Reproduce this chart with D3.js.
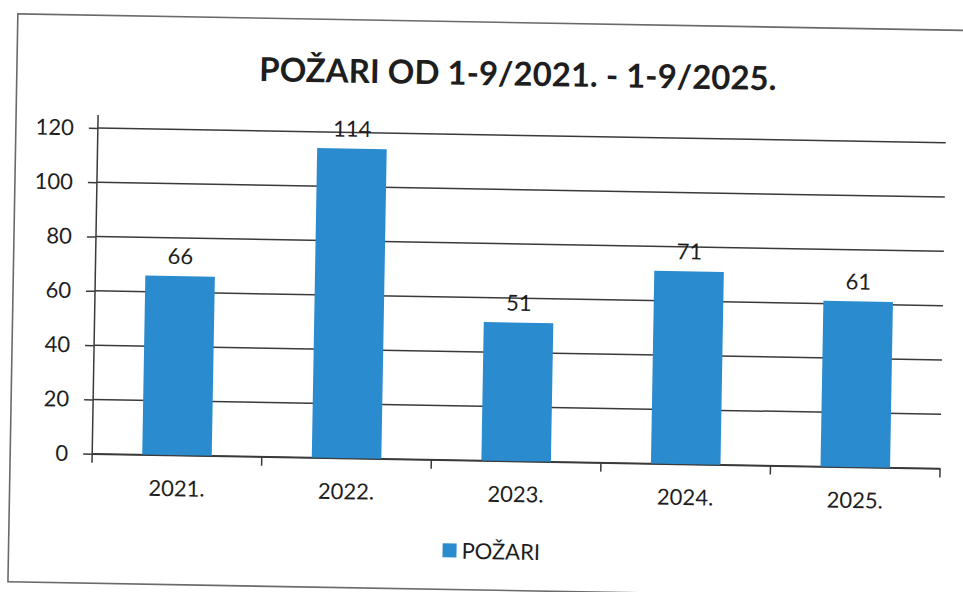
<!DOCTYPE html>
<html lang="hr">
<head>
    <meta charset="UTF-8">
    <title>Požari</title>
    <script src="https://d3js.org/d3.v7.min.js"></script>
    <style>
        body {
            margin: 0;
            background-color: #fff;
        }

        svg {
            display: block;
            font-family: Lato, "Open Sans", sans-serif;
        }
    </style>
</head>
<body>
    <script>
        const years = ["2021.", "2022.", "2023.", "2024.", "2025."];
        const pozari = [66, 114, 51, 71, 61];
        const yTicks = [0, 20, 40, 60, 80, 100, 120];
        const title = "POŽARI OD 1-9/2021. - 1-9/2025.";
        const seriesName = "POŽARI";

        const w = 963;
        const h = 592;
        const plotLeft = 95, plotRight = 943, plotTop = 134.7, plotBottom = 460.5;
        const barColor = "#2b8bcf";
        const lineColor = "#3a3a3a";

        const svg = d3.select("body")
            .append("svg")
            .attr("width", w)
            .attr("height", h);

        // the scan is turned a little, so draw everything in a rotated group
        const g = svg.append("g")
            .attr("transform", "rotate(1, 481, 296)");

        // outer frame
        g.append("rect")
            .attr("x", 13)
            .attr("y", 22)
            .attr("width", 1000)
            .attr("height", 568)
            .attr("fill", "none")
            .attr("stroke", "#6a6a6a")
            .attr("stroke-width", 1.6);

        g.append("text")
            .text(title)
            .attr("x", 514)
            .attr("y", 85)
            .attr("text-anchor", "middle")
            .style("font-size", "33px")
            .style("font-weight", "bold")
            .style("fill", "#1e1e1e");

        const xScale = d3.scaleBand()
            .domain(years)
            .range([plotLeft, plotRight]);

        const yScale = d3.scaleLinear()
            .domain([0, 120])
            .range([plotBottom, plotTop]);

        // gridlines
        g.selectAll(".grid")
            .data(yTicks)
            .enter()
            .append("line")
            .attr("class", "grid")
            .attr("x1", plotLeft)
            .attr("x2", plotRight)
            .attr("y1", (d) => yScale(d))
            .attr("y2", (d) => yScale(d))
            .attr("stroke", lineColor)
            .attr("stroke-width", 1.5);

        const yAxis = d3.axisLeft(yScale)
            .tickValues(yTicks)
            .tickSize(9)
            .tickPadding(15);

        const yg = g.append("g")
            .attr("transform", "translate(" + plotLeft + ",0)")
            .call(yAxis);

        yg.select(".domain")
            .attr("d", "M0," + (plotTop - 13) + "V" + plotBottom);

        const xAxis = d3.axisBottom(xScale)
            .tickValues([])
            .tickSizeOuter(0);

        const xg = g.append("g")
            .attr("transform", "translate(0," + plotBottom + ")")
            .call(xAxis);

        // tick marks between the categories
        xg.selectAll(".sep")
            .data(d3.range(years.length + 1))
            .enter()
            .append("line")
            .attr("class", "sep")
            .attr("x1", (i) => plotLeft + i * xScale.step())
            .attr("x2", (i) => plotLeft + i * xScale.step())
            .attr("y1", 0)
            .attr("y2", 9);

        xg.selectAll(".lbl")
            .data(years)
            .enter()
            .append("text")
            .attr("class", "lbl")
            .text((d) => d)
            .attr("x", (d) => xScale(d) + xScale.bandwidth() / 2)
            .attr("y", 41)
            .attr("text-anchor", "middle");

        [yg, xg].forEach((a) => {
            a.selectAll("path, line")
                .attr("stroke", lineColor)
                .attr("stroke-width", 1.5);
            a.selectAll("text")
                .style("font-size", "22px")
                .style("font-family", "Lato, sans-serif")
                .attr("fill", "#1e1e1e");
        });

        const barW = xScale.bandwidth() * 0.41;

        g.selectAll(".bar")
            .data(pozari)
            .enter()
            .append("rect")
            .attr("class", "bar")
            .attr("x", (d, i) => xScale(years[i]) + (xScale.bandwidth() - barW) / 2)
            .attr("y", (d) => yScale(d))
            .attr("width", barW)
            .attr("height", (d) => plotBottom - yScale(d))
            .attr("fill", barColor);

        g.selectAll(".val")
            .data(pozari)
            .enter()
            .append("text")
            .attr("class", "val")
            .text((d) => d)
            .attr("x", (d, i) => xScale(years[i]) + xScale.bandwidth() / 2)
            .attr("y", (d) => yScale(d) - 12)
            .attr("text-anchor", "middle")
            .style("font-size", "22px")
            .style("fill", "#1e1e1e");

        // legend
        g.append("rect")
            .attr("x", 447)
            .attr("y", 544)
            .attr("width", 14)
            .attr("height", 14)
            .attr("fill", barColor);

        g.append("text")
            .text(seriesName)
            .attr("x", 466)
            .attr("y", 559)
            .style("font-size", "22px")
            .style("fill", "#1e1e1e");
    </script>
</body>
</html>
